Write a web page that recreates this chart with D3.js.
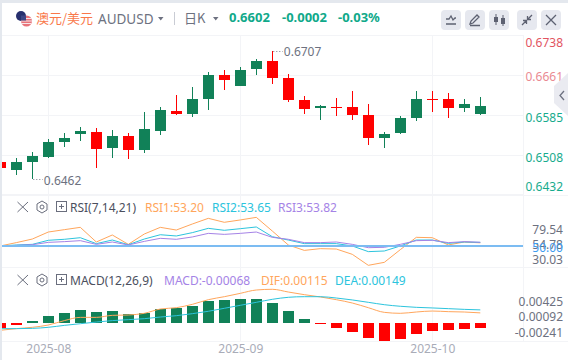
<!DOCTYPE html>
<html>
<head>
<meta charset="utf-8">
<script src="https://cdn.jsdelivr.net/npm/d3@7"></script>
<style>
html, body { margin: 0; padding: 0; background: #fff; overflow: hidden; }
text { font-family: "Noto Sans", "Noto Sans CJK SC", sans-serif; }
.domain { display: none; }
</style>
</head>
<body>
<div id="chart"></div>
<script>
// candles, oldest first
const opens  = [.64942,.64794,.64942,.65038,.65326,.65479,.65518,.6521,.65441,.65172,.65537,.65921,.65863,.66151,.66612,.66401,.66727,.66881,.66554,.66132,.65978,.65998,.65998,.65844,.65402,.65498,.65786,.66151,.66151,.65978,.65863];
const highs  = [.64942,.65018,.65134,.65383,.65498,.65614,.65594,.65556,.65498,.65902,.65998,.66228,.66382,.6667,.66708,.66766,.66919,.6707,.66631,.66209,.66036,.6617,.66305,.66055,.65518,.65825,.66305,.66305,.66266,.66151,.6619];
const lows   = [.64826,.64692,.6462,.65018,.6523,.65345,.64826,.65018,.64999,.65114,.6546,.65844,.65806,.6594,.66324,.66401,.66612,.66439,.66094,.65863,.65748,.65825,.65748,.65268,.6521,.65479,.65729,.65902,.65786,.65902,.65844];
const closes = [.64826,.64942,.65057,.65326,.65402,.65537,.65191,.65441,.65172,.65575,.6594,.65863,.66151,.66612,.66516,.66708,.66881,.66554,.66132,.65959,.66017,.65978,.65844,.65402,.65479,.65786,.66151,.66132,.65978,.66055,.6602];

const rsi1 = [49.7,53.4,57.4,65.2,67.8,70.4,54.1,61.9,51.5,63.0,70.4,67.4,74.1,80.4,76.0,78.6,81.5,66.3,50.8,44.8,46.7,46.3,40.4,28.2,31.5,45.6,59.3,58.9,50.8,54.1,53.2];
const rsi2 = [49.7,50.8,51.5,56.0,57.1,58.9,52.3,56.3,51.1,57.4,62.2,60.8,64.5,69.3,67.1,68.9,70.8,60.0,56.3,52.3,52.3,52.3,49.7,43.4,44.1,49.7,56.3,56.3,52.6,54.1,53.65];
const rsi3 = [48.9,50.4,51.1,53.7,54.5,55.6,51.5,54.1,50.8,54.8,58.2,57.1,59.7,63.7,62.6,63.7,65.2,59.3,57.1,53.4,53.4,54.1,51.5,47.8,48.2,51.5,55.6,56.0,53.4,54.5,53.82];

const macdBars = [-.00057,-.00019,.00023,.0008,.00114,.00148,.00125,.00136,.00102,.00114,.00159,.00171,.00197,.0025,.00262,.00273,.00273,.00227,.00136,.00045,-.00011,-.00057,-.00102,-.00171,-.00205,-.00182,-.00125,-.00091,-.0008,-.00068,-.00058];
const dif = [-.00083,-.00064,-.00049,-.00023,.00027,.00064,.00064,.00087,.00091,.0011,.00159,.00174,.00212,.00265,.00299,.00337,.00375,.00383,.00352,.00322,.00296,.00265,.00227,.00174,.00121,.0011,.00125,.00136,.00129,.00125,.00115];
const dea = [-.00064,-.00064,-.00061,-.00049,-.00027,-.00008,.00011,.00027,.00038,.00049,.00068,.00083,.00106,.00133,.00167,.00201,.00235,.00269,.00292,.00299,.00299,.00284,.00262,.00235,.00208,.0019,.00178,.00171,.00163,.00155,.00149];

const priceTicks = [.6738,.6661,.6585,.6508,.6432];
const rsiTicks = ["79.54","54.78","50.00","30.03"];
const macdTicks = ["0.00425","0.00092","-0.00241"];
const dateTicks = ["2025-08","2025-09","2025-10"];
const dateIndex = [3,15,27];

const width = 568, height = 360;
const GREEN = "#118158", RED = "#ff0000", GRID = "#f3f4f7";
const ORANGE = "#ffa65c", CYAN = "#2cc4dd", PURPLE = "#a583e6";

const xScale = d3.scaleLinear().domain([0, 30]).range([0.3, 480.3]);
const yPrice = d3.scaleLinear().domain([.6432, .6738]).range([194.3, 35]);
const yRsi = d3.scaleLinear().domain([0, 100]).range([290.7, 200.7]);
const yMacd = d3.scaleLinear().domain([0, .001]).range([323, 314.2]);

const svg = d3.select("#chart").append("svg")
    .attr("width", width)
    .attr("height", height)
    .style("display", "block")
    .style("background-color", "#fff");

svg.append("defs").append("clipPath").attr("id", "plot")
    .append("rect").attr("x", 2).attr("y", 35).attr("width", 521).attr("height", 306);

// grid
const grid = svg.append("g").attr("stroke", GRID).attr("stroke-width", 1);
grid.selectAll(".v").data(dateIndex).join("line")
    .attr("x1", d => Math.floor(xScale(d)) + 0.5)
    .attr("x2", d => Math.floor(xScale(d)) + 0.5)
    .attr("y1", 35).attr("y2", 342);
grid.selectAll(".h").data(priceTicks).join("line")
    .attr("x1", 2).attr("x2", 523)
    .attr("y1", d => Math.round(yPrice(d)) + 0.5)
    .attr("y2", d => Math.round(yPrice(d)) + 0.5);
[267.5, 341.5].forEach(y => grid.append("line").attr("x1", 2).attr("x2", 568).attr("y1", y).attr("y2", y));
grid.append("line").attr("x1", 2).attr("x2", 568).attr("y1", 195.5).attr("y2", 195.5);
grid.append("line").attr("x1", 523.5).attr("x2", 523.5).attr("y1", 35).attr("y2", 342);

const plot = svg.append("g").attr("clip-path", "url(#plot)");

// candles
const candles = plot.selectAll(".candle").data(d3.range(opens.length)).join("g");
candles.append("rect")
    .attr("x", i => Math.floor(xScale(i)))
    .attr("width", 1)
    .attr("y", i => Math.round(yPrice(highs[i])))
    .attr("height", i => Math.round(yPrice(lows[i])) - Math.round(yPrice(highs[i])))
    .attr("fill", i => closes[i] >= opens[i] ? GREEN : RED);
candles.append("rect")
    .attr("x", i => Math.floor(xScale(i)) - 5)
    .attr("width", 11)
    .attr("y", i => Math.round(yPrice(Math.max(opens[i], closes[i]))))
    .attr("height", i => Math.max(1, Math.round(yPrice(Math.min(opens[i], closes[i]))) - Math.round(yPrice(Math.max(opens[i], closes[i])))))
    .attr("fill", i => closes[i] >= opens[i] ? GREEN : RED);

// high / low markers
const hiIdx = d3.maxIndex(highs), loIdx = d3.minIndex(lows);
const note = svg.append("g").attr("fill", "#6d7180").style("font-size", "12px");
note.append("text").attr("x", xScale(hiIdx) + 11.5).attr("y", yPrice(highs[hiIdx]) + 5).text(highs[hiIdx].toFixed(4));
note.append("text").attr("x", xScale(loIdx) + 11.5).attr("y", yPrice(lows[loIdx]) + 6).text(lows[loIdx].toFixed(4));
[[hiIdx, yPrice(highs[hiIdx]) - 0.5], [loIdx, yPrice(lows[loIdx])]].forEach(([i, y]) => {
    svg.append("line")
        .attr("x1", xScale(i) + 1).attr("x2", xScale(i) + 10.5)
        .attr("y1", Math.round(y) + 0.5).attr("y2", Math.round(y) + 0.5)
        .attr("stroke", "#777b8a").attr("stroke-dasharray", "1 2");
});

// RSI
const rsiLine = d3.line().x((d, i) => xScale(i)).y(d => yRsi(d));
[[rsi1, ORANGE], [rsi2, CYAN], [rsi3, PURPLE]].forEach(([vals, color]) => {
    plot.append("path").datum(vals).attr("d", rsiLine)
        .attr("fill", "none").attr("stroke", color).attr("stroke-width", 1);
});
svg.append("line").attr("x1", 2).attr("x2", 523)
    .attr("y1", Math.round(yRsi(50))).attr("y2", Math.round(yRsi(50)))
    .attr("stroke", "#7cbcf2").attr("stroke-width", 2);

// MACD
plot.selectAll(".bar").data(macdBars).join("rect")
    .attr("x", (d, i) => Math.floor(xScale(i)) - 5)
    .attr("width", 11)
    .attr("y", d => d >= 0 ? Math.round(yMacd(d)) : yMacd(0))
    .attr("height", d => Math.max(1, Math.abs(Math.round(yMacd(d)) - yMacd(0))))
    .attr("fill", d => d >= 0 ? GREEN : RED);
const macdLine = d3.line().x((d, i) => xScale(i)).y(d => yMacd(d)).curve(d3.curveMonotoneX);
[[dif, ORANGE], [dea, CYAN]].forEach(([vals, color]) => {
    plot.append("path").datum(vals).attr("d", macdLine)
        .attr("fill", "none").attr("stroke", color).attr("stroke-width", 1);
});

// price axis, the outer labels are pushed inside the pane
const priceDy = [7, 0.5, 2, 2, -8];
const priceColor = ["#e2545f", "#ea8a92", "#17ab8d", "#17ab8d", "#17ab8d"];
svg.append("g")
    .call(d3.axisRight(yPrice).tickValues(priceTicks).tickSize(0).tickFormat(d3.format(".4f")))
    .call(g => g.selectAll(".tick text")
        .attr("x", 563).attr("text-anchor", "end")
        .attr("dy", (d, i) => 4.5 + priceDy[i])
        .attr("fill", (d, i) => priceColor[i])
        .style("font-size", "12px").style("font-family", "\"Noto Sans\""));

// rsi + macd labels
const rsiLabelY = [229.5, 244.5, 247, 259.5];
const rsiLabelColor = ["#6d7180", "#6d7180", "#3f9cf0", "#6d7180"];
svg.append("g").selectAll("text").data(rsiTicks).join("text")
    .attr("x", 563).attr("y", (d, i) => rsiLabelY[i] + 4.5)
    .attr("text-anchor", "end").attr("fill", (d, i) => rsiLabelColor[i])
    .style("font-size", "12px").text(d => d);
const macdLabelY = [301.5, 316.5, 332.5];
svg.append("g").selectAll("text").data(macdTicks).join("text")
    .attr("x", 563).attr("y", (d, i) => macdLabelY[i] + 4.5)
    .attr("text-anchor", "end").attr("fill", "#6d7180")
    .style("font-size", "12px").text(d => d);

// date axis
svg.append("g")
    .attr("transform", "translate(0,341)")
    .call(d3.axisBottom(xScale).tickValues(dateIndex).tickSize(0).tickFormat((d, i) => dateTicks[i]))
    .call(g => g.selectAll(".tick text")
        .attr("y", 3).attr("fill", "#a9acb8")
        .style("font-size", "12px").style("font-family", "\"Noto Sans\""));

// pane headers
function paneHeader(y, name, items) {
    const g = svg.append("g");
    const c = "#6a6e7d";
    g.append("path").attr("d", `M17.5 ${y - 5}L28 ${y + 5}M28 ${y - 5}L17.5 ${y + 5}`)
        .attr("stroke", c).attr("fill", "none");
    g.append("path").attr("d", `M42 ${y - 6}l5 3v6l-5 3l-5 -3v-6z`)
        .attr("stroke", c).attr("fill", "none");
    g.append("circle").attr("cx", 42).attr("cy", y).attr("r", 2)
        .attr("stroke", c).attr("fill", "none");
    g.append("rect").attr("x", 56.5).attr("y", y - 5.5).attr("width", 10).attr("height", 10)
        .attr("stroke", c).attr("fill", "none");
    g.append("path").attr("d", `M59 ${y - 0.5}h5M61.5 ${y - 3}v5`).attr("stroke", c);
    g.append("text").attr("x", 70).attr("y", y + 4.5).attr("fill", "#4b4f5e")
        .style("font-size", "12px").text(name);
    items.forEach(([label, x, color]) => {
        g.append("text").attr("x", x).attr("y", y + 4.5).attr("fill", color)
            .style("font-size", "12px").text(label);
    });
}
paneHeader(207, "RSI(7,14,21)", [["RSI1:53.20", 145, ORANGE], ["RSI2:53.65", 212, CYAN], ["RSI3:53.82", 278, PURPLE]]);
paneHeader(280, "MACD(12,26,9)", [["MACD:-0.00068", 164, PURPLE], ["DIF:0.00115", 261, ORANGE], ["DEA:0.00149", 335, CYAN]]);

// top bar
svg.append("circle").attr("cx", 21).attr("cy", 16).attr("r", 5).attr("fill", "#27306e");
svg.append("circle").attr("cx", 26.5).attr("cy", 21).attr("r", 5.5).attr("fill", "#e8737a");
svg.append("path").attr("d", "M21 18.5h11M21 21h11M21 23.5h10").attr("stroke", "#f6e6e8");
svg.append("path").attr("d", "M21 15.5h5v5h-5z").attr("fill", "#3d4685");

svg.append("text").attr("x", 36).attr("y", 23).attr("fill", "#f9784a")
    .style("font-size", "13px").style("font-family", "\"Noto Sans CJK SC\"").text("澳元/美元");
svg.append("text").attr("x", 98).attr("y", 24).attr("fill", "#6d7180")
    .style("font-size", "13.5px").text("AUDUSD");
svg.append("text").attr("x", 184).attr("y", 23).attr("fill", "#6d7180")
    .style("font-size", "13px").style("font-family", "\"Noto Sans CJK SC\"").text("日K");
svg.append("path").attr("d", "M158 17h5.5l-2.75 3.5zM213 17h5.5l-2.75 3.5z").attr("fill", "#6d7180");
svg.append("line").attr("x1", 174.5).attr("x2", 174.5).attr("y1", 12).attr("y2", 25).attr("stroke", "#c9ccd4");

[["0.6602", 229], ["-0.0002", 282], ["-0.03%", 338]].forEach(([t, x]) => {
    svg.append("text").attr("x", x).attr("y", 22).attr("fill", "#10a98a")
        .style("font-size", "13px").style("font-weight", 700).text(t);
});

// toolbar buttons
const btnX = [441, 465, 489, 517, 541];
svg.append("g").selectAll("rect").data(btnX).join("rect")
    .attr("x", d => d).attr("y", 10).attr("width", 20).attr("height", 20).attr("rx", 4)
    .attr("fill", "#e6e8ef");
const ic = svg.append("g").attr("fill", "none").attr("stroke", "#5d6171").attr("stroke-width", 1.3);
ic.append("path").attr("d", "M446 19h3l2 -3l2 4l2 -2h1M446 24h10");
ic.append("path").attr("d", "M470 24l1 -3l6 -6l2 2l-6 6zM470 25.5h10");
ic.append("path").attr("d", "M496 14v11M503 15v11").attr("stroke-width", 1);
svg.append("rect").attr("x", 494).attr("y", 17).attr("width", 4).attr("height", 5).attr("fill", "#5d6171");
svg.append("rect").attr("x", 501).attr("y", 18).attr("width", 4).attr("height", 6).attr("fill", "#5d6171");
ic.append("path").attr("d", "M522 25l4 -4M523 20.5h3.5v3.5M532 15l-4 4M531 19.5h-3.5v-3.5");
ic.append("path").attr("d", "M546 15l10 10M556 15l-10 10");

// side tab
svg.append("path").attr("d", "M568 73L554 86V103L568 116z").attr("fill", "#e6e8ef").attr("fill-opacity", 0.85);
svg.append("path").attr("d", "M564 91l-4 4.5l4 4.5").attr("fill", "none").attr("stroke", "#6d7180").attr("stroke-width", 1.3);

// page frame
svg.append("rect").attr("x", 0).attr("y", 0).attr("width", width).attr("height", 3).attr("fill", "#e4e8ee");
svg.append("rect").attr("x", 0).attr("y", 0).attr("width", 2).attr("height", height).attr("fill", "#e4e8ee");
</script>
</body>
</html>
